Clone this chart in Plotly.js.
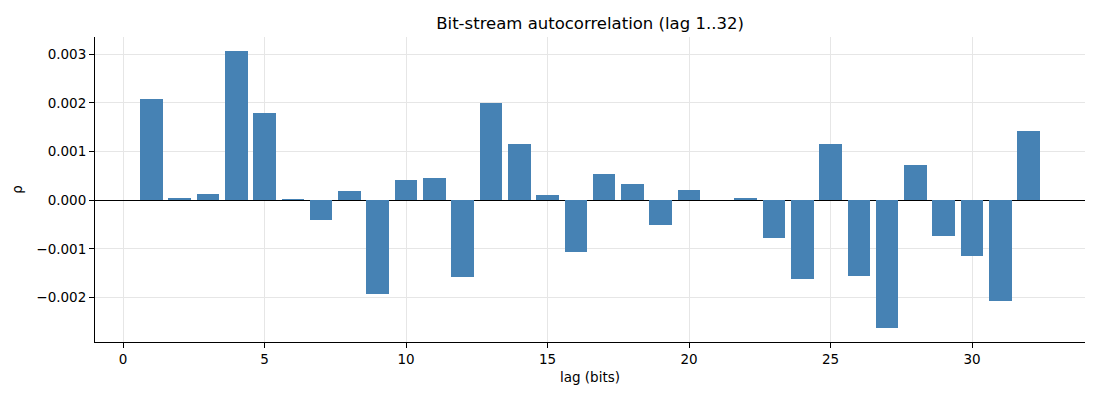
<!DOCTYPE html>
<html>
<head>
<meta charset="utf-8">
<script src="https://cdn.plot.ly/plotly-3.0.1.min.js"></script>
<style>html,body{margin:0;padding:0;background:#fff;}#chart{width:1100px;height:400px;}</style>
</head>
<body>
<div id="chart"></div>
<script>
const lags = [1,2,3,4,5,6,7,8,9,10,11,12,13,14,15,16,17,18,19,20,21,22,23,24,25,26,27,28,29,30,31,32];
const rho = [0.00208,0.00004,0.00012,0.00307,0.00179,0.00002,-0.00041,0.00019,-0.00193,0.00041,0.00045,-0.00157,
             0.00199,0.00115,0.00010,-0.00107,0.00054,0.00033,-0.00051,0.00021,0.0,0.00004,-0.00078,-0.00162,
             0.00115,-0.00156,-0.00263,0.00072,-0.00074,-0.00115,-0.00208,0.00142];
const yTickVals = [-0.002,-0.001,0,0.001,0.002,0.003];
const yTickText = ["\u22120.002","\u22120.001","0.000","0.001","0.002","0.003"];
const xTickVals = [0,5,10,15,20,25,30];
const xTickText = ["0","5","10","15","20","25","30"];

const font = "DejaVu Sans, sans-serif";
Plotly.newPlot('chart', [{
  type: 'bar',
  x: lags,
  y: rho,
  width: 0.8,
  marker: {color: '#4682b4', line: {width: 0}},
  hoverinfo: 'x+y'
}], {
  width: 1100, height: 400,
  margin: {l: 95, r: 15, t: 37, b: 58},
  paper_bgcolor: '#fff', plot_bgcolor: '#fff',
  font: {family: font, size: 13.5, color: '#000'},
  title: {text: 'Bit-stream autocorrelation (lag 1..32)', font: {family: font, size: 16.5, color: '#000'},
          x: 0.5364, xanchor: 'center', y: 0.942, yanchor: 'middle'},
  xaxis: {
    range: [-0.99, 33.99],
    tickvals: xTickVals, ticktext: xTickText,
    showgrid: true, gridcolor: '#e6e6e6', gridwidth: 1,
    zeroline: false,
    showline: true, linecolor: '#000', linewidth: 1,
    ticks: 'outside', ticklen: 5, tickcolor: '#000', tickwidth: 1,
    title: {text: 'lag (bits)', font: {family: font, size: 13.5}, standoff: 6}
  },
  yaxis: {
    range: [-0.002915, 0.003355],
    tickvals: yTickVals, ticktext: yTickText,
    showgrid: true, gridcolor: '#e6e6e6', gridwidth: 1,
    zeroline: true, zerolinecolor: '#000', zerolinewidth: 1,
    showline: true, linecolor: '#000', linewidth: 1,
    ticks: 'outside', ticklen: 5, tickcolor: '#000', tickwidth: 1,
    title: {text: 'ρ', font: {family: font, size: 13.5}, standoff: 10}
  },
  bargap: 0,
  showlegend: false
}, {displayModeBar: false, staticPlot: true});
</script>
</body>
</html>
